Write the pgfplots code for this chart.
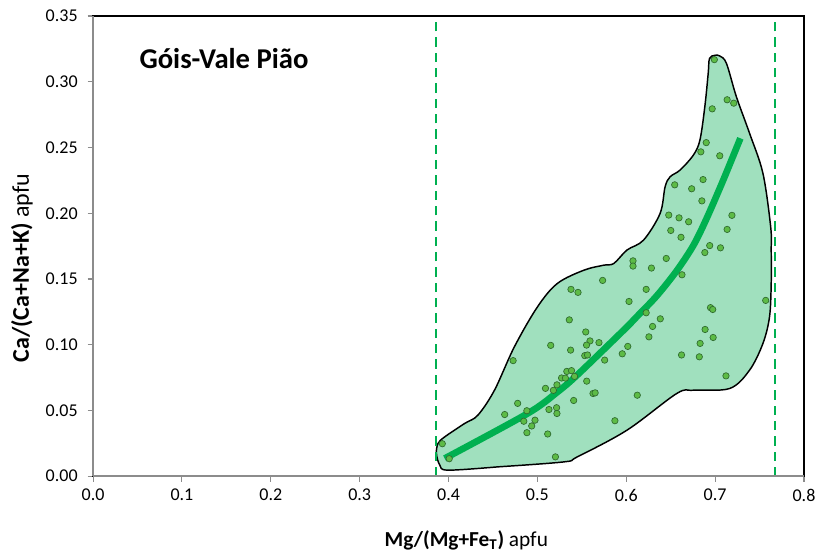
\documentclass[border=0pt]{standalone}
\usepackage{fontspec}
\setmainfont{Carlito}
\usepackage{pgfplots}
\pgfplotsset{compat=1.18}
\definecolor{envfill}{HTML}{A0E0BE}
\definecolor{ptfill}{HTML}{5DBB46}
\definecolor{ptedge}{HTML}{2F6B2F}
\definecolor{trend}{HTML}{00B050}
\definecolor{axgray}{HTML}{8C8C8C}

\begin{document}
\begin{tikzpicture}
\begin{axis}[
  scale only axis,
  width=533pt, height=345pt,
  xmin=0, xmax=0.8, ymin=0, ymax=0.35,
  xtick={0,0.1,0.2,0.3,0.4,0.5,0.6,0.7,0.8},
  ytick={0,0.05,0.1,0.15,0.2,0.25,0.3,0.35},
  tick pos=left,
  tick align=outside,
  major tick length=4pt,
  tick style={draw=axgray, line width=0.8pt},
  axis line style={draw=black, line width=1.2pt},
  xticklabel style={/pgf/number format/fixed, /pgf/number format/fixed zerofill, /pgf/number format/precision=1, /pgf/number format/assume math mode=true, yshift=-2pt},
  yticklabel style={/pgf/number format/fixed, /pgf/number format/fixed zerofill, /pgf/number format/precision=2, /pgf/number format/assume math mode=true, xshift=-4pt},
  tick label style={font=\fontsize{13.5}{16}\selectfont},
  xlabel={\textbf{Mg/(Mg+Fe\textsubscript{T})} apfu},
  ylabel={\textbf{Ca/(Ca+Na+K)} apfu},
  xlabel style={font=\fontsize{16}{18}\selectfont, at={(axis description cs:0.525,-0.139)}, anchor=center},
  ylabel style={font=\fontsize{18}{20}\selectfont, at={(axis description cs:-0.1,0.452)}, anchor=center},
  clip=false,
]
% envelope
\addplot[draw=black, line width=1.1pt, fill=envfill, smooth, tension=0.55] coordinates {
(0.4554,0.0071) (0.5300,0.0109) (0.5449,0.0147) (0.6008,0.0350) (0.6568,0.0629)
(0.6755,0.0654) (0.7164,0.0667) (0.7388,0.0807) (0.7538,0.1010) (0.7612,0.1212)
(0.7631,0.1466) (0.7631,0.1720) (0.7625,0.1897) (0.7538,0.2303) (0.7388,0.2607)
(0.7239,0.2886) (0.7127,0.3140) (0.7052,0.3196) (0.6996,0.3201) (0.6937,0.3177)
(0.6922,0.3064) (0.6884,0.2810) (0.6829,0.2557) (0.6755,0.2442) (0.6605,0.2328)
(0.6493,0.2277) (0.6437,0.2201) (0.6381,0.1999) (0.6195,0.1796) (0.6008,0.1720)
(0.5860,0.1618) (0.5748,0.1605) (0.5524,0.1567) (0.5225,0.1466) (0.5001,0.1288)
(0.4741,0.0984) (0.4517,0.0654) (0.4330,0.0464) (0.4181,0.0401) (0.3957,0.0299)
(0.3882,0.0249) (0.3864,0.0173) (0.3902,0.0084) (0.3994,0.0046) (0.4554,0.0071)
};
% limits
\addplot[trend, dash pattern=on 7pt off 4.5pt, line width=1.6pt] coordinates {(0.386,0) (0.386,0.35)};
\addplot[trend, dash pattern=on 7pt off 4.5pt, line width=1.6pt] coordinates {(0.767,0) (0.767,0.35)};
% samples
\addplot[only marks, mark=*, mark size=2.4pt, mark options={fill=ptfill, draw=ptedge, line width=0.5pt}] table {
x y
0.3930 0.0247
0.4008 0.0133
0.4632 0.0469
0.4727 0.0879
0.4778 0.0554
0.4847 0.0418
0.4881 0.0498
0.4882 0.0331
0.4936 0.0382
0.4973 0.0426
0.5091 0.0668
0.5116 0.0321
0.5130 0.0507
0.5150 0.0995
0.5180 0.0653
0.5203 0.0147
0.5216 0.0521
0.5220 0.0477
0.5220 0.0695
0.5272 0.0747
0.5315 0.0746
0.5331 0.0797
0.5384 0.0803
0.5418 0.0759
0.5408 0.0576
0.5374 0.0959
0.5359 0.1189
0.5378 0.1421
0.5457 0.1398
0.5544 0.1097
0.5592 0.1029
0.5553 0.0997
0.5533 0.0917
0.5564 0.0922
0.5555 0.0723
0.5626 0.0629
0.5650 0.0634
0.5693 0.1016
0.5734 0.1489
0.5757 0.0883
0.5872 0.0422
0.5955 0.0931
0.6017 0.0987
0.6031 0.1329
0.6076 0.1638
0.6076 0.1598
0.6124 0.0616
0.6224 0.1421
0.6224 0.1243
0.6255 0.1060
0.6283 0.1583
0.6296 0.1139
0.6383 0.1197
0.6450 0.1656
0.6478 0.1986
0.6501 0.1869
0.6545 0.2216
0.6594 0.1965
0.6616 0.1817
0.6627 0.1532
0.6622 0.0922
0.6702 0.1935
0.6736 0.2186
0.6822 0.0908
0.6831 0.1010
0.6839 0.2467
0.6851 0.2094
0.6864 0.2256
0.6884 0.1701
0.6887 0.1116
0.6900 0.2537
0.6939 0.1754
0.6948 0.1282
0.6973 0.1268
0.6967 0.2794
0.6978 0.1055
0.6991 0.3168
0.7052 0.2437
0.7060 0.1737
0.7122 0.0763
0.7135 0.2863
0.7135 0.1877
0.7189 0.1984
0.7209 0.2837
0.7569 0.1337
};
% trend
\addplot[trend, line width=5pt, smooth] coordinates {
(0.3957,0.0135) (0.4890,0.0477) (0.5225,0.0640) (0.5449,0.0770) (0.5971,0.1111)
(0.6117,0.1212) (0.6341,0.1370) (0.6565,0.1560) (0.6755,0.1755) (0.6904,0.1960)
(0.7090,0.2250) (0.7284,0.2570)
};
\draw[axgray, line width=1.1pt] (rel axis cs:0,0) -- (rel axis cs:0,1);
\draw[axgray, line width=1.1pt] (rel axis cs:0,0) -- (rel axis cs:1,0);
\node[anchor=west, font=\fontsize{21.5}{24}\selectfont\bfseries] at (axis cs:0.047,0.318) {Góis-Vale Pião};
\end{axis}
\pgfresetboundingbox
\path[use as bounding box] ([xshift=-69.75pt,yshift=-57.75pt]current axis.south west) rectangle ([xshift=10.5pt,yshift=12pt]current axis.north east);
\end{tikzpicture}
\end{document}
